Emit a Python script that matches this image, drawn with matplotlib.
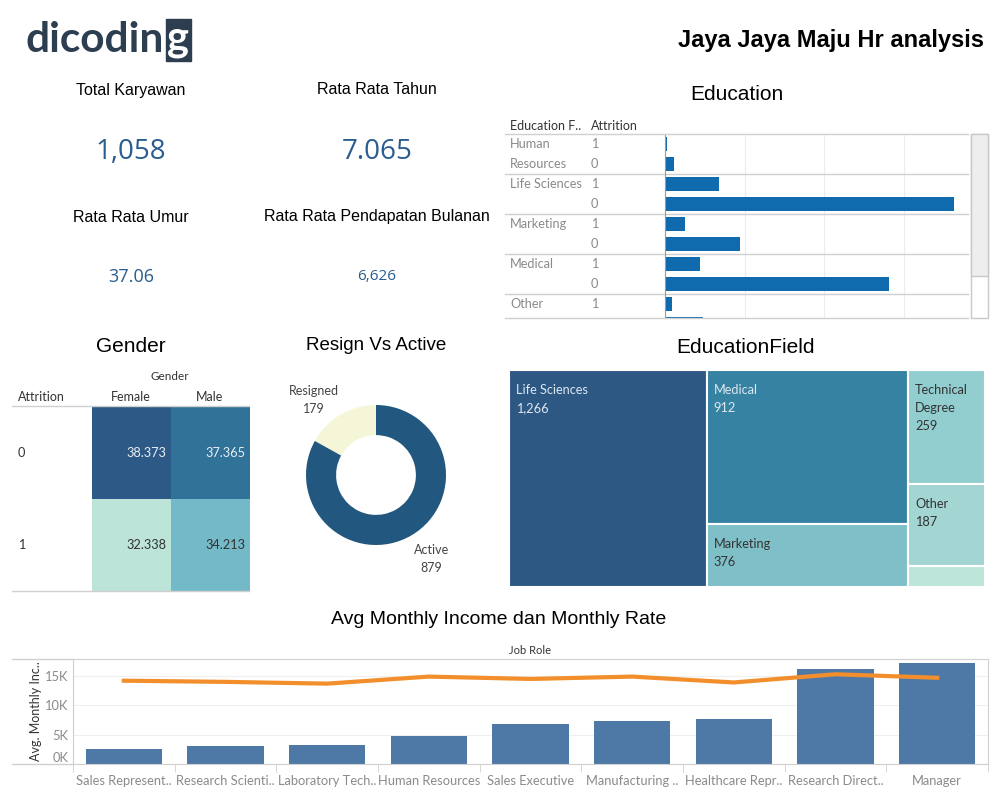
import numpy as np
import matplotlib.pyplot as plt
from matplotlib.patches import Rectangle
from matplotlib.lines import Line2D
from matplotlib.colors import LinearSegmentedColormap
from matplotlib.transforms import blended_transform_factory

# ---- data ----
kpi_labels = ["Total Karyawan", "Rata Rata Tahun", "Rata Rata Umur", "Rata Rata Pendapatan Bulanan"]
kpi_values = ["1,058", "7.065", "37.06", "6,626"]

edu_groups = ["Human\nResources", "Life Sciences", "Marketing", "Medical", "Other"]
edu_attr = ["1", "0", "1", "0", "1", "0", "1", "0", "1", "0"]
edu_count = [2, 11, 68, 363, 25, 94, 44, 282, 9, 48]

gender_cols = ["Female", "Male"]
attr_rows = ["0", "1"]
avg_age = [[38.373, 37.365],
           [32.338, 34.213]]

status = ["Resigned", "Active"]
status_count = [179, 879]

field_names = ["Life Sciences", "Medical", "Marketing", "Technical\nDegree", "Other", "Human Resources"]
field_values = [1266, 912, 376, 259, 187, 47]
field_colors = ["#2d5884", "#3682a3", "#7fc0c8", "#92ced0", "#a3d5d2", "#bde5d9"]
treemap_columns = [[0], [1, 2], [3, 4, 5]]

roles = ["Sales Represent..", "Research Scienti..", "Laboratory Tech..", "Human Resources",
         "Sales Executive", "Manufacturing ..", "Healthcare Repr..", "Research Direct..", "Manager"]
income = [2600, 3100, 3300, 4700, 6900, 7400, 7700, 16200, 17200]
rate = [14200, 14000, 13700, 14900, 14500, 14900, 13900, 15300, 14700]

W, H = 999, 799
TITLE = "Liberation Sans"
SMALL = "Lato"
GRAY = "#8a8a8a"
LINE = "#d0d0d0"


def fx(x):
    return x / W


def fy(y):
    return 1 - y / H


def box(l, t, r, b):
    return [l / W, 1 - b / H, (r - l) / W, (b - t) / H]


def hline(fig, x0, x1, y, color=LINE, lw=1):
    fig.add_artist(Line2D([fx(x0), fx(x1)], [fy(y), fy(y)], color=color, lw=lw))


fig = plt.figure(figsize=(9.99, 7.99), dpi=100)

# ---- header ----
fig.text(fx(164), fy(52), "dicodin", fontsize=30.5, family=SMALL, weight="bold",
         color="#2c3e50", va="baseline", ha="right")
fig.add_artist(Rectangle((fx(166), fy(61)), 25 / W, 42 / H, transform=fig.transFigure,
                         color="#2c3e50"))
fig.text(fx(178.5), fy(50), "g", fontsize=30, family=SMALL, weight="bold", color="white",
         va="baseline", ha="center")
fig.text(fx(984), fy(41), "Jaya Jaya Maju Hr analysis", fontsize=17, family=TITLE,
         weight="bold", ha="right", va="center")

# ---- KPIs ----
kpi_pos = [(131, 90, 152, 20), (377, 90, 152, 20), (131, 217, 277, 13), (377, 217, 277, 11)]
for lab, val, (x, yl, yv, fs) in zip(kpi_labels, kpi_values, kpi_pos):
    fig.text(fx(x), fy(yl), lab, fontsize=11.5, family=TITLE, ha="center", va="center")
    fig.text(fx(x), fy(yv), val, fontsize=fs, family="Open Sans", color="#2a5d8f",
             ha="center", va="center")

# ---- Education bars ----
fig.text(fx(737), fy(94), "Education", fontsize=15, family=TITLE, ha="center", va="center")
ax = fig.add_axes(box(665, 134, 968, 318))
ypos = np.arange(len(edu_count))
ax.barh(ypos, edu_count, height=0.72, color="#0f6aae")
ax.set_ylim(8.7, -0.5)
ax.set_xlim(0, 381)
ax.set_xticks([100, 200, 300])
ax.grid(axis="x", color="#ececec", lw=0.8)
ax.set_axisbelow(True)
ax.tick_params(left=False, bottom=False, labelleft=False, labelbottom=False)
for s in ["top", "right", "bottom"]:
    ax.spines[s].set_visible(False)
ax.spines["left"].set_color("#9a9a9a")
tr = blended_transform_factory(fig.transFigure, ax.transData)
fig.text(fx(510), fy(126), "Education F..", fontsize=9, family=SMALL, color="#333333", va="center")
fig.text(fx(591), fy(126), "Attrition", fontsize=9, family=SMALL, color="#333333", va="center")
last_row = 8.7 - 0.4
for i, g in enumerate(edu_groups):
    for j, part in enumerate(g.split("\n")):
        if 2 * i + j < last_row:
            ax.text(fx(510), 2 * i + j, part, transform=tr, fontsize=9.2, family=SMALL,
                    color=GRAY, va="center")
for i, a in enumerate(edu_attr):
    if i < last_row:
        ax.text(fx(591), i, a, transform=tr, fontsize=9.2, family=SMALL, color=GRAY, va="center")
for b in [1.5, 3.5, 5.5, 7.5]:
    ax.add_artist(Line2D([fx(505), fx(968)], [b, b], transform=tr, color=LINE, lw=1, clip_on=False))
hline(fig, 505, 968, 134)
hline(fig, 505, 968, 318)
fig.add_artist(Rectangle((fx(971), fy(318)), 17 / W, 184 / H, transform=fig.transFigure,
                         facecolor="white", edgecolor="#c8c8c8", lw=1))
fig.add_artist(Rectangle((fx(971), fy(276)), 17 / W, 142 / H, transform=fig.transFigure,
                         facecolor="#eeeeee", edgecolor="#c8c8c8", lw=1))

# ---- Gender heatmap ----
fig.text(fx(131), fy(346), "Gender", fontsize=15, family=TITLE, ha="center", va="center")
fig.text(fx(170), fy(377), "Gender", fontsize=8.5, family=SMALL, color="#333333", ha="center", va="center")
fig.text(fx(18), fy(397), "Attrition", fontsize=9, family=SMALL, color="#333333", va="center")
axh = fig.add_axes(box(92, 407, 249, 591))
age = np.array(avg_age)
cmap = LinearSegmentedColormap.from_list(
    "age", [(0.0, "#bce4d9"), ((34.213 - 32.338) / (38.373 - 32.338), "#73b9c8"),
            ((37.365 - 32.338) / (38.373 - 32.338), "#32739a"), (1.0, "#2c5985")])
axh.imshow(age, cmap=cmap, vmin=age.min(), vmax=age.max(), aspect="auto")
axh.set_xlim(-0.5, 1.5)
axh.set_ylim(1.5, -0.5)
axh.axis("off")
for r in range(2):
    for c in range(2):
        v = age[r][c]
        col = "#e8eef5" if v > 37 else "#333333"
        axh.text(c + 0.45, r, f"{v:.3f}", ha="right", va="center", fontsize=9.2,
                 family=SMALL, color=col)
trh = blended_transform_factory(fig.transFigure, axh.transData)
for i, r in enumerate(attr_rows):
    axh.text(fx(18), i, r, transform=trh, fontsize=9.2, family=SMALL, color="#333333", va="center")
for i, c in enumerate(gender_cols):
    fig.text(fx(131 + 79 * i), fy(397), c, fontsize=9, family=SMALL, color="#333333",
             ha="center", va="center")
hline(fig, 12, 249, 406)
hline(fig, 12, 249, 591)

# ---- Donut ----
fig.text(fx(376), fy(346), "Resign Vs Active", fontsize=13.5, family=TITLE, ha="center", va="center")
axd = fig.add_axes(box(306, 405, 446, 545))
wedges, _ = axd.pie(status_count, colors=["#f5f6d8", "#22577f"], startangle=90,
                    counterclock=True, radius=1, wedgeprops=dict(width=0.43, linewidth=0))
axd.set_xlim(-1, 1)
axd.set_ylim(-1, 1)
label_shift = {"Resigned": (-0.18, -0.14), "Active": (0.08, 0.0)}
for w, name, n in zip(wedges, status, status_count):
    mid = np.deg2rad((w.theta1 + w.theta2) / 2)
    ox, oy = label_shift[name]
    axd.text(1.4 * np.cos(mid) + ox, 1.4 * np.sin(mid) + oy, f"{name}\n{n}", ha="center",
             va="center", fontsize=9, family=SMALL, color="#444444", linespacing=1.6,
             clip_on=False)

# ---- Treemap ----
fig.text(fx(745), fy(347), "EducationField", fontsize=15, family=TITLE, ha="center", va="center")
axt = fig.add_axes(box(509, 370, 985, 587))
axt.set_xlim(0, 1)
axt.set_ylim(1, 0)
axt.axis("off")
total = sum(field_values)
x0 = 0
for col in treemap_columns:
    s = sum(field_values[i] for i in col)
    w = s / total
    y0 = 0
    for i in col:
        h = field_values[i] / s
        axt.add_patch(Rectangle((x0, y0), w, h, facecolor=field_colors[i], edgecolor="white", lw=1.5))
        if field_values[i] > 100:
            tc = "#dde7f0" if i < 2 else "#333333"
            axt.annotate(f"{field_names[i]}\n{field_values[i]:,}", (x0, y0), xytext=(5, -10),
                         textcoords="offset points", ha="left", va="top", fontsize=9.2,
                         family=SMALL, color=tc, linespacing=1.6)
        y0 += h
    x0 += w

# ---- Job role bars + line ----
fig.text(fx(499), fy(619), "Avg Monthly Income dan Monthly Rate", fontsize=14, family=TITLE,
         ha="center", va="center")
fig.text(fx(530), fy(650), "Job Role", fontsize=8, family=SMALL, color="#333333",
         ha="center", va="center")
axb = fig.add_axes(box(73, 659, 988, 764))
xs = np.arange(len(roles))
axb.bar(xs, income, width=0.75, color="#4e79a7", zorder=2)
axb.plot(xs, rate, color="#f28e2b", lw=3, zorder=3)
axb.set_xlim(-0.5, len(roles) - 0.5)
axb.set_ylim(0, 17900)
axb.set_yticks([0, 5000, 10000, 15000])
axb.set_yticklabels(["0K", "5K", "10K", "15K"])
axb.set_xticks(xs)
axb.set_xticklabels(roles)
axb.set_xticks(np.arange(len(roles) + 1) - 0.5, minor=True)
axb.tick_params(axis="both", which="major", length=0, labelsize=9.3, labelcolor="#8a8a8a")
axb.tick_params(axis="x", which="minor", length=6, color=LINE, direction="out")
axb.tick_params(axis="x", which="major", pad=8)
for lbl in axb.get_xticklabels() + axb.get_yticklabels():
    lbl.set_family(SMALL)
axb.get_yticklabels()[0].set_va("bottom")
axb.grid(axis="y", color="#efefef", lw=0.8, zorder=0)
for s in axb.spines.values():
    s.set_color(LINE)
axb.spines["left"].set_color("#cfcfcf")
axb.set_ylabel("Avg. Monthly Inc..", fontsize=9, family=SMALL, color="#333333", labelpad=2)
hline(fig, 12, 73, 659)
hline(fig, 12, 73, 764)

fig.savefig("out.png", dpi=100)
